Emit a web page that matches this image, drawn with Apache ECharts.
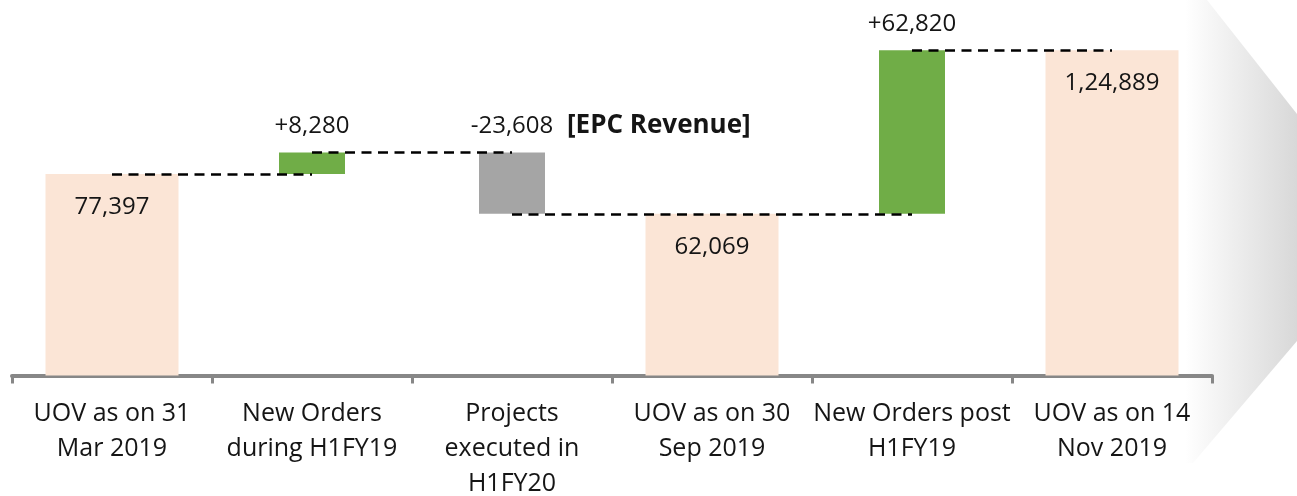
<!DOCTYPE html>
<html>
<head>
<meta charset="utf-8">
<script src="https://cdn.jsdelivr.net/npm/echarts@6/dist/echarts.min.js"></script>
<style>
  html, body { margin: 0; padding: 0; background: #ffffff; }
  #chart { width: 1297px; height: 496px; }
</style>
</head>
<body>
<div id="chart"></div>
<script>
// Unexecuted order value (UOV) bridge, in lakhs
const categories = [
  'UOV as on 31\nMar 2019',
  'New Orders\nduring H1FY19',
  'Projects\nexecuted in\nH1FY20',
  'UOV as on 30\nSep 2019',
  'New Orders post\nH1FY19',
  'UOV as on 14\nNov 2019'
];
// Totals are absolute values; the rest are changes from the previous level
const stepValues = [77397, 8280, -23608, 62069, 62820, 124889];
const isTotal = [true, false, false, true, false, true];
const noteText = '[EPC Revenue]';
const noteIndex = 2;

const COLORS = { total: '#FBE5D6', increase: '#70AD47', decrease: '#A5A5A5' };
const FONT = '"Open Sans", "Noto Sans", sans-serif';
const TEXT_COLOR = '#151515';

// Indian digit grouping: 124889 -> 1,24,889
function fmtIN(n) {
  const s = String(Math.abs(Math.round(n)));
  if (s.length <= 3) return s;
  const last3 = s.slice(-3);
  const rest = s.slice(0, -3).replace(/\B(?=(\d{2})+(?!\d))/g, ',');
  return rest + ',' + last3;
}

// Totals are wide bars from zero; changes are narrow floating bars
const totalData = [];
const baseData = [];
const changeData = [];
const levels = [];
const tops = [];
let running = 0;
stepValues.forEach((v, i) => {
  if (isTotal[i]) {
    running = v;
    totalData.push({
      value: v,
      itemStyle: { color: COLORS.total },
      label: { position: 'insideTop', distance: 21, formatter: fmtIN(v) }
    });
    baseData.push('-');
    changeData.push('-');
    tops.push(v);
  } else {
    const up = v >= 0;
    const base = up ? running : running + v;
    running += v;
    totalData.push('-');
    baseData.push(base);
    changeData.push({
      value: Math.abs(v),
      itemStyle: { color: up ? COLORS.increase : COLORS.decrease },
      label: { position: 'top', distance: 14, formatter: (up ? '+' : '-') + fmtIN(v) }
    });
    tops.push(base + Math.abs(v));
  }
  levels.push(running);
});

// Dashed connectors between consecutive bars; equal levels are merged
const connectors = [];
for (let i = 0; i < levels.length - 1; i++) {
  const last = connectors[connectors.length - 1];
  if (last && last.level === levels[i] && last.to === i) {
    last.to = i + 1;
  } else {
    connectors.push({ from: i, to: i + 1, level: levels[i] });
  }
}
const connectorLines = connectors.map(c => [
  { coord: [c.from, c.level] },
  { coord: [c.to, c.level] }
]);

const labelStyle = { show: true, color: TEXT_COLOR, fontSize: 24, fontFamily: FONT };

const chart = echarts.init(document.getElementById('chart'), null, { renderer: 'canvas' });

chart.setOption({
  animation: false,
  backgroundColor: '#ffffff',
  textStyle: { fontFamily: FONT },
  graphic: [{
    type: 'polygon',
    z: -10,
    silent: true,
    shape: { points: [[1100, 0], [1207, 0], [1390, 232], [1193, 463], [1100, 463]] },
    style: {
      fill: {
        type: 'linear', x: 1185, y: 0, x2: 1297, y2: 0, global: true,
        colorStops: [
          { offset: 0, color: 'rgba(255,255,255,1)' },
          { offset: 1, color: '#d8d8d8' }
        ]
      }
    }
  }],
  grid: {
    left: 12, right: 85, top: 50, bottom: 120.5,
    containLabel: false,
    outerBoundsMode: 'none'
  },
  xAxis: [
    {
      type: 'category',
      data: categories,
      axisLine: { show: true, lineStyle: { color: '#878787', width: 4 } },
      axisTick: { show: true, length: 8, lineStyle: { color: '#878787', width: 3 } },
      axisLabel: {
        interval: 0,
        margin: 21,
        color: TEXT_COLOR,
        fontSize: 25,
        lineHeight: 35,
        fontFamily: FONT,
        align: 'center'
      },
      splitLine: { show: false }
    },
    {
      type: 'category',
      data: categories,
      show: false,
      position: 'bottom'
    }
  ],
  yAxis: {
    type: 'value',
    min: 0,
    max: 125000,
    show: false,
    splitLine: { show: false }
  },
  series: [
    {
      name: 'total',
      type: 'bar',
      xAxisIndex: 0,
      barWidth: 133,
      label: labelStyle,
      data: totalData
    },
    {
      name: 'base',
      type: 'bar',
      xAxisIndex: 1,
      stack: 'bridge',
      barWidth: 66,
      silent: true,
      itemStyle: { color: 'transparent' },
      data: baseData
    },
    {
      name: 'change',
      type: 'bar',
      xAxisIndex: 1,
      stack: 'bridge',
      barWidth: 66,
      label: labelStyle,
      data: changeData,
      markLine: {
        silent: true,
        symbol: ['none', 'none'],
        label: { show: false },
        lineStyle: { color: '#000000', width: 2.5, type: [10, 6.5] },
        z: 5,
        data: connectorLines
      },
      markPoint: {
        silent: true,
        symbol: 'rect',
        symbolSize: 0,
        label: {
          show: true,
          position: 'inside',
          align: 'left',
          verticalAlign: 'middle',
          offset: [55, -27],
          formatter: noteText,
          color: TEXT_COLOR,
          fontSize: 26,
          fontWeight: 'bold',
          fontFamily: FONT
        },
        data: [{ coord: [noteIndex, tops[noteIndex]] }]
      }
    }
  ]
});
</script>
</body>
</html>
